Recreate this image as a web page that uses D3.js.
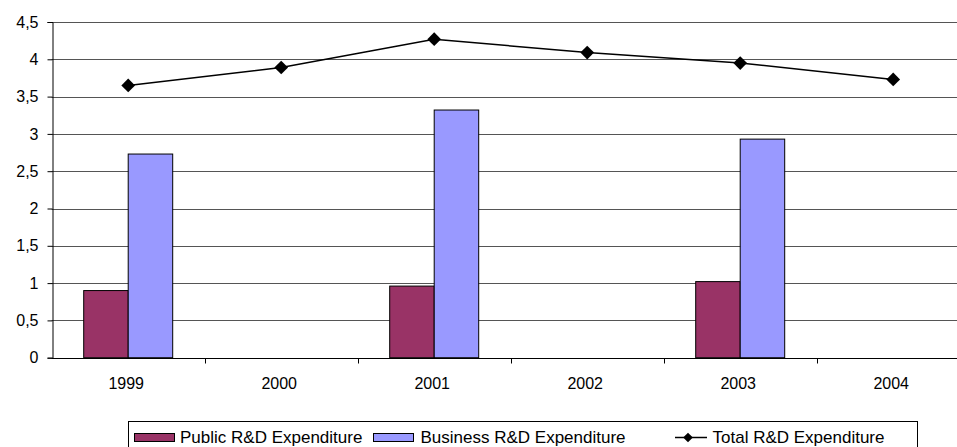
<!DOCTYPE html>
<html>
<head>
<meta charset="utf-8">
<script src="https://cdn.jsdelivr.net/npm/d3@7"></script>
<style>
  html, body { margin: 0; padding: 0; background: #fff; }
  svg { display: block; font-family: "Liberation Sans", Arial, sans-serif; }
</style>
</head>
<body>
<svg id="chart" width="957" height="447"></svg>
<script>
const years = ["1999", "2000", "2001", "2002", "2003", "2004"];
const publicRD = [0.90, null, 0.96, null, 1.02, null];
const businessRD = [2.73, null, 3.32, null, 2.93, null];
const totalRD = [3.65, 3.89, 4.27, 4.09, 3.95, 3.73];
const yTicks = [0, 0.5, 1, 1.5, 2, 2.5, 3, 3.5, 4, 4.5];
const seriesNames = ["Public R&D Expenditure", "Business R&D Expenditure", "Total R&D Expenditure"];
const colors = ["#993366", "#9999FF", "#000000"];

const svg = d3.select("#chart");
const plotLeft = 51.7, plotTop = 22, plotBottom = 357.7, catW = 153;

const x = d3.scaleBand().domain(years).range([plotLeft, plotLeft + catW * years.length]);
const y = d3.scaleLinear().domain([0, 4.5]).range([plotBottom, plotTop]);
const xSub = d3.scaleBand().domain(["public", "business"]).range([-44.5, 44.5]);
const fmt = v => String(v).replace(".", ",");

// gridlines
svg.append("g").selectAll("line").data(yTicks.filter(t => t > 0)).join("line")
  .attr("x1", plotLeft).attr("x2", 957)
  .attr("y1", d => Math.round(y(d)) + 0.5).attr("y2", d => Math.round(y(d)) + 0.5)
  .attr("stroke", "#555").attr("stroke-width", 1);

// y axis
const yAxis = d3.axisLeft(y).tickValues(yTicks).tickFormat(fmt).tickSize(5).tickPadding(9);
const gy = svg.append("g").attr("transform", `translate(${Math.round(plotLeft) + 0.5},0)`).call(yAxis);
gy.select(".domain").attr("stroke", "#000");
gy.selectAll(".tick line").attr("stroke", "#000");
gy.selectAll(".tick text").attr("font-size", 16).attr("fill", "#000")
  .attr("font-family", "Liberation Sans, Arial, sans-serif");

// bars
const cx = yr => x(yr) + x.bandwidth() / 2;
const barData = [];
years.forEach((yr, i) => {
  if (publicRD[i] != null) barData.push({ yr, key: "public", v: publicRD[i], c: colors[0] });
  if (businessRD[i] != null) barData.push({ yr, key: "business", v: businessRD[i], c: colors[1] });
});
svg.append("g").selectAll("rect").data(barData).join("rect")
  .attr("x", d => cx(d.yr) + xSub(d.key))
  .attr("y", d => y(d.v))
  .attr("width", xSub.bandwidth())
  .attr("height", d => y(0) - y(d.v))
  .attr("fill", d => d.c)
  .attr("stroke", "#000").attr("stroke-width", 1);

// x axis
const gx = svg.append("g").attr("transform", `translate(0,${Math.round(plotBottom) + 0.5})`);
gx.append("line").attr("x1", plotLeft).attr("x2", 957).attr("y1", 0).attr("y2", 0).attr("stroke", "#000");
gx.selectAll("line.tk").data(years.slice(1)).join("line").attr("class", "tk")
  .attr("x1", d => Math.round(x(d)) + 0.5).attr("x2", d => Math.round(x(d)) + 0.5)
  .attr("y1", 0).attr("y2", 5).attr("stroke", "#000");
gx.selectAll("text").data(years).join("text")
  .attr("x", d => cx(d) - 2).attr("y", 30)
  .attr("text-anchor", "middle").attr("font-size", 16).attr("fill", "#000").text(d => d);

// total line
const line = d3.line().x((d, i) => cx(years[i])).y(d => y(d));
svg.append("path").datum(totalRD).attr("d", line)
  .attr("fill", "none").attr("stroke", "#000").attr("stroke-width", 1.5);
const diamond = d3.symbol().type(d3.symbolDiamond2).size(120);
svg.append("g").selectAll("path").data(totalRD).join("path")
  .attr("d", diamond)
  .attr("transform", (d, i) => `translate(${cx(years[i])},${y(d)})`)
  .attr("fill", "#000");

// legend
const lg = svg.append("g");
lg.append("rect").attr("x", 128.5).attr("y", 421.5).attr("width", 789).attr("height", 30)
  .attr("fill", "#fff").attr("stroke", "#000");
const baseY = 443;
lg.append("rect").attr("x", 134.5).attr("y", 433.5).attr("width", 40).attr("height", 8)
  .attr("fill", colors[0]).attr("stroke", "#000");
lg.append("text").attr("x", 180).attr("y", baseY).attr("font-size", 17).text(seriesNames[0]);
lg.append("rect").attr("x", 373.5).attr("y", 433.5).attr("width", 40).attr("height", 8)
  .attr("fill", colors[1]).attr("stroke", "#000");
lg.append("text").attr("x", 420.5).attr("y", baseY).attr("font-size", 17).text(seriesNames[1]);
lg.append("line").attr("x1", 675).attr("x2", 707).attr("y1", 437.5).attr("y2", 437.5)
  .attr("stroke", "#000").attr("stroke-width", 1.5);
lg.append("path").attr("d", d3.symbol().type(d3.symbolDiamond2).size(60)())
  .attr("transform", "translate(688,437.5)").attr("fill", "#000");
lg.append("text").attr("x", 712.5).attr("y", baseY).attr("font-size", 17).text(seriesNames[2]);
</script>
</body>
</html>
